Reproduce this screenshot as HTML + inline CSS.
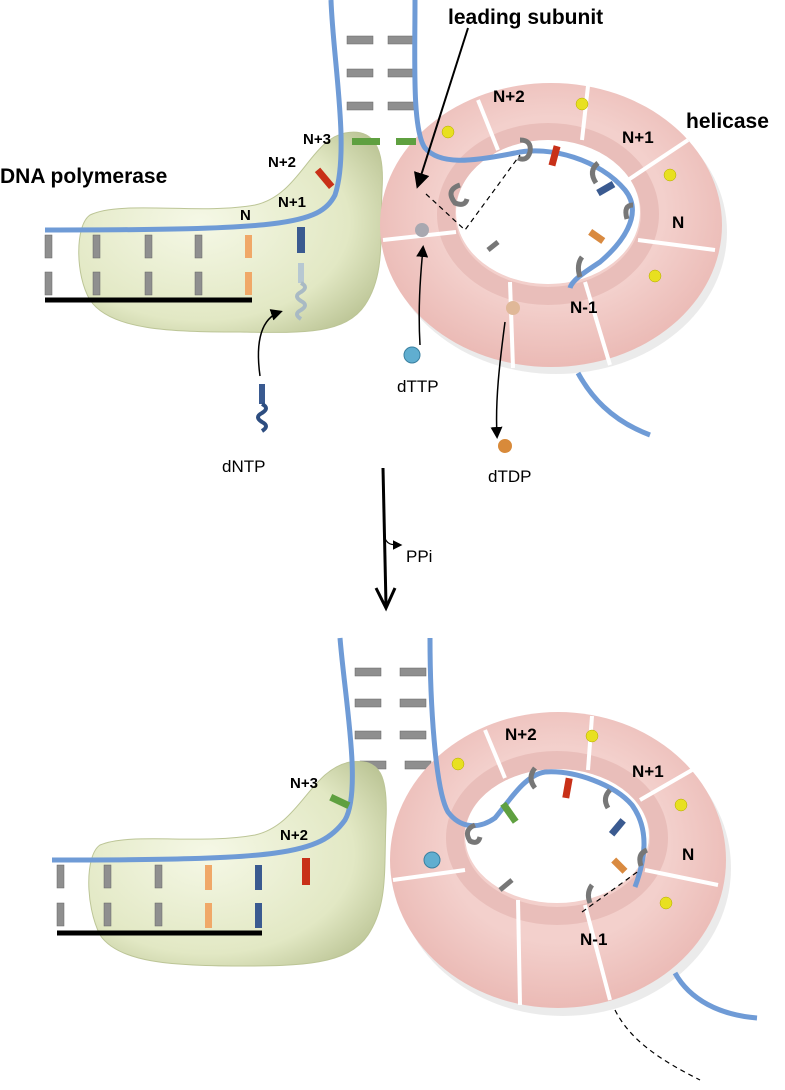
<!DOCTYPE html>
<html><head><meta charset="utf-8"><style>
html,body{margin:0;padding:0;background:#fff;}
svg{display:block;font-family:"Liberation Sans",sans-serif;}
</style></head><body>
<svg width="785" height="1090" viewBox="0 0 785 1090" xmlns="http://www.w3.org/2000/svg">
<defs>
<radialGradient id="g1" cx="0.4" cy="0.45" r="0.7">
<stop offset="0" stop-color="#f5f8e6"/><stop offset="0.7" stop-color="#e2e8c4"/><stop offset="1" stop-color="#bcc596"/>
</radialGradient>
<radialGradient id="p1" cx="0.5" cy="0.45" r="0.6">
<stop offset="0.55" stop-color="#f3d0cc"/><stop offset="1" stop-color="#e9b5b0"/>
</radialGradient>
<marker id="ah" markerWidth="8" markerHeight="8" refX="6" refY="4" orient="auto"><path d="M0,0 L8,4 L0,8 z" fill="#000"/></marker>
<g id="rung"><rect x="0" y="0" width="26" height="8" fill="#8f8f8f" stroke="#666" stroke-width="0.5"/></g>
<g id="vr"><rect x="0" y="0" width="7" height="23" fill="#8f8f8f" stroke="#666" stroke-width="0.5"/></g>
</defs>

<!-- ================= TOP PANEL ================= -->
<use href="#rung" x="347" y="36"/><use href="#rung" x="388" y="36"/>
<use href="#rung" x="347" y="69"/><use href="#rung" x="388" y="69"/>
<use href="#rung" x="347" y="102"/><use href="#rung" x="388" y="102"/>
<!-- polymerase blob -->
<path d="M90,215 C120,200 200,215 255,205 C300,195 310,140 345,133 C372,128 385,145 382,190 C380,240 385,275 365,305 C345,335 300,333 240,332 C170,332 110,330 90,300 C75,275 75,225 90,215 Z" fill="url(#g1)" stroke="#bcc596" stroke-width="1"/>
<use href="#vr" x="45" y="235"/><use href="#vr" x="93" y="235"/><use href="#vr" x="145" y="235"/><use href="#vr" x="195" y="235"/>
<rect x="245" y="235" width="7" height="23" fill="#f0a868"/>
<use href="#vr" x="45" y="272"/><use href="#vr" x="93" y="272"/><use href="#vr" x="145" y="272"/><use href="#vr" x="195" y="272"/>
<rect x="245" y="272" width="7" height="23" fill="#f0a868"/>
<rect x="297" y="227" width="8" height="26" fill="#3a5a90"/>
<rect x="298" y="263" width="6" height="20" fill="#b7c8d2"/>
<path d="M301,283 q8,4 0,9 q-8,4 0,9 q8,4 0,9 q-8,4 0,9" stroke="#a9bac4" stroke-width="4" fill="none"/>
<line x1="45" y1="300" x2="252" y2="300" stroke="#000" stroke-width="5"/>
<!-- helicase ring -->
<ellipse cx="556" cy="232" rx="171" ry="142" fill="#d8d8d8" opacity="0.5"/>
<path fill-rule="evenodd" d="M380,225 A171,142 0 1,0 722,225 A171,142 0 1,0 380,225 Z M456,212 A92,72 0 1,0 640,212 A92,72 0 1,0 456,212 Z" fill="url(#p1)"/>
<ellipse cx="548" cy="214" rx="102" ry="82" fill="none" stroke="#e3b3ae" stroke-width="18" opacity="0.6"/>
<ellipse cx="548" cy="212" rx="92" ry="72" fill="#fff"/>
<g stroke="#fff" stroke-width="4">
<line x1="478" y1="100" x2="498" y2="150"/><line x1="588" y1="86" x2="582" y2="140"/>
<line x1="688" y1="140" x2="628" y2="180"/><line x1="715" y1="250" x2="638" y2="240"/>
<line x1="610" y1="365" x2="585" y2="282"/><line x1="513" y1="368" x2="510" y2="282"/>
<line x1="383" y1="240" x2="456" y2="232"/>
</g>
<!-- DNA strands -->
<path d="M331,0 C333,60 350,150 335,195 C320,225 280,230 45,230" stroke="#6f9bd6" stroke-width="5" fill="none"/>
<path d="M415,0 C415,60 412,130 425,148 C440,165 470,162 515,153 C550,145 600,160 625,190 C645,215 620,245 600,262 C585,272 572,280 570,288" stroke="#6f9bd6" stroke-width="5" fill="none"/>
<path d="M578,373 C590,395 610,420 650,435" stroke="#6f9bd6" stroke-width="5" fill="none"/>
<!-- colored bases -->
<rect x="352" y="138" width="28" height="7" fill="#5fa040"/><rect x="396" y="138" width="20" height="7" fill="#5fa040"/>
<rect x="321" y="167" width="7" height="22" fill="#c83018" transform="rotate(-40 325 178)"/>
<rect x="551" y="146" width="7" height="20" fill="#c83018" transform="rotate(15 555 156)"/>
<rect x="602" y="180" width="7" height="18" fill="#3a5a90" transform="rotate(60 606 189)"/>
<rect x="593" y="228" width="7" height="16" fill="#d98a40" transform="rotate(-55 597 236)"/>
<g stroke="#777" stroke-width="5" fill="none">
<path d="M520,140 q12,0 10,12 q-3,10 -12,6"/>
<path d="M598,163 q-10,8 -2,20"/>
<path d="M633,205 q-10,0 -6,14"/>
<path d="M582,257 q-6,8 -2,20"/>
<path d="M460,185 q-15,5 -5,18 q10,4 12,-4"/>
<path d="M488,250 l10,-8"/>
</g>
<g fill="#e8e020" stroke="#b0a800" stroke-width="0.5">
<circle cx="448" cy="132" r="6"/><circle cx="582" cy="104" r="6"/><circle cx="670" cy="175" r="6"/><circle cx="655" cy="276" r="6"/>
</g>
<circle cx="422" cy="230" r="7" fill="#a8a8b0"/>
<circle cx="513" cy="308" r="7" fill="#e0b898"/>
<!-- arrows -->
<line x1="468" y1="28" x2="418" y2="185" stroke="#000" stroke-width="2" marker-end="url(#ah)"/>
<path d="M426,194 L465,230 L520,155" stroke="#000" stroke-width="1.2" stroke-dasharray="5,4" fill="none"/>
<path d="M260,376 C255,340 262,318 280,312" stroke="#000" stroke-width="1.5" fill="none" marker-end="url(#ah)"/>
<rect x="259" y="384" width="6" height="20" fill="#3a5a90"/>
<path d="M262,404 q8,4 0,9 q-8,4 0,9 q8,4 0,9" stroke="#2d4d80" stroke-width="4" fill="none"/>
<path d="M420,345 C418,310 420,280 423,248" stroke="#000" stroke-width="1.5" fill="none" marker-end="url(#ah)"/>
<circle cx="412" cy="355" r="8" fill="#60aed0" stroke="#3a80a0"/>
<path d="M505,322 C500,360 495,400 497,436" stroke="#000" stroke-width="1.5" fill="none" marker-end="url(#ah)"/>
<circle cx="505" cy="446" r="7" fill="#d88a3a"/>
<g font-weight="bold" font-size="21">
<text x="448" y="24">leading subunit</text>
<text x="0" y="183">DNA polymerase</text>
<text x="686" y="128">helicase</text>
</g>
<g font-weight="bold" font-size="17">
<text x="303" y="144" font-size="15">N+3</text>
<text x="268" y="167" font-size="15">N+2</text>
<text x="278" y="207" font-size="15">N+1</text>
<text x="240" y="220" font-size="15">N</text>
<text x="493" y="102">N+2</text>
<text x="622" y="143">N+1</text>
<text x="672" y="228">N</text>
<text x="570" y="313">N-1</text>
</g>
<text x="222" y="472" font-size="17">dNTP</text>
<text x="397" y="392" font-size="17">dTTP</text>
<text x="488" y="482" font-size="17">dTDP</text>

<!-- central arrow -->
<line x1="383" y1="468" x2="386" y2="605" stroke="#000" stroke-width="3"/>
<path d="M376,588 L386,608 L395,588" stroke="#000" stroke-width="3" fill="none"/>
<path d="M384,535 C386,545 392,545 400,545" stroke="#000" stroke-width="1.2" fill="none" marker-end="url(#ah)"/>
<text x="406" y="562" font-size="17">PPi</text>

<!-- ================= BOTTOM PANEL ================= -->
<use href="#rung" x="355" y="668"/><use href="#rung" x="400" y="668"/>
<use href="#rung" x="355" y="699"/><use href="#rung" x="400" y="699"/>
<use href="#rung" x="355" y="731"/><use href="#rung" x="400" y="731"/>
<use href="#rung" x="360" y="761"/><use href="#rung" x="405" y="761"/>
<path d="M100,845 C130,832 200,845 255,835 C300,825 310,770 350,762 C380,758 388,775 386,820 C384,870 388,905 368,935 C348,965 300,966 240,966 C170,966 118,962 100,935 C85,905 85,855 100,845 Z" fill="url(#g1)" stroke="#bcc596" stroke-width="1"/>
<use href="#vr" x="57" y="865"/><use href="#vr" x="104" y="865"/><use href="#vr" x="155" y="865"/>
<rect x="205" y="865" width="7" height="25" fill="#f0a868"/><rect x="255" y="865" width="7" height="25" fill="#3a5a90"/>
<use href="#vr" x="57" y="903"/><use href="#vr" x="104" y="903"/><use href="#vr" x="155" y="903"/>
<rect x="205" y="903" width="7" height="25" fill="#f0a868"/><rect x="255" y="903" width="7" height="25" fill="#3a5a90"/>
<rect x="302" y="858" width="8" height="27" fill="#c83018"/>
<line x1="57" y1="933" x2="262" y2="933" stroke="#000" stroke-width="5"/>
<ellipse cx="563" cy="868" rx="168" ry="148" fill="#d8d8d8" opacity="0.5"/>
<path fill-rule="evenodd" d="M390,860 A168,148 0 1,0 726,860 A168,148 0 1,0 390,860 Z" fill="url(#p1)"/>
<ellipse cx="557" cy="838" rx="102" ry="78" fill="none" stroke="#e3b3ae" stroke-width="18" opacity="0.6"/>
<ellipse cx="557" cy="836" rx="92" ry="67" fill="#fff"/>
<g stroke="#fff" stroke-width="4">
<line x1="485" y1="730" x2="505" y2="778"/><line x1="592" y1="716" x2="588" y2="770"/>
<line x1="692" y1="770" x2="640" y2="800"/><line x1="718" y1="885" x2="645" y2="870"/>
<line x1="610" y1="1000" x2="585" y2="905"/><line x1="520" y1="1005" x2="518" y2="900"/>
<line x1="393" y1="880" x2="465" y2="870"/>
</g>
<path d="M340,638 C345,700 362,790 345,820 C320,855 280,860 52,860" stroke="#6f9bd6" stroke-width="5" fill="none"/>
<path d="M430,638 C430,700 435,790 448,812 C460,828 478,830 495,818 C510,800 525,775 545,772 C575,770 615,785 632,805 C650,830 645,860 635,887" stroke="#6f9bd6" stroke-width="5" fill="none"/>
<path d="M675,973 C690,1000 720,1015 757,1018" stroke="#6f9bd6" stroke-width="5" fill="none"/>
<rect x="330" y="798" width="20" height="7" fill="#5fa040" transform="rotate(25 340 801)"/>
<rect x="506" y="802" width="7" height="22" fill="#5fa040" transform="rotate(-35 509 813)"/>
<rect x="564" y="778" width="7" height="20" fill="#c83018" transform="rotate(10 567 788)"/>
<rect x="614" y="818" width="7" height="18" fill="#3a5a90" transform="rotate(40 617 827)"/>
<rect x="616" y="858" width="7" height="16" fill="#d98a40" transform="rotate(-45 619 866)"/>
<g stroke="#777" stroke-width="5" fill="none">
<path d="M475,825 q-12,5 -5,16 q8,4 10,-4"/>
<path d="M535,768 q-8,10 0,20"/>
<path d="M610,790 q-8,8 -2,18"/>
<path d="M647,850 q-10,4 -6,16"/>
<path d="M592,885 q-6,8 -2,18"/>
<path d="M500,890 l12,-10"/>
</g>
<g fill="#e8e020" stroke="#b0a800" stroke-width="0.5">
<circle cx="458" cy="764" r="6"/><circle cx="592" cy="736" r="6"/><circle cx="681" cy="805" r="6"/><circle cx="666" cy="903" r="6"/>
</g>
<circle cx="432" cy="860" r="8" fill="#60aed0" stroke="#3a80a0"/>
<path d="M582,912 L640,870" stroke="#000" stroke-width="1.2" stroke-dasharray="5,4" fill="none"/>
<path d="M615,1010 C630,1040 660,1060 700,1080" stroke="#000" stroke-width="1.2" stroke-dasharray="5,4" fill="none"/>
<g font-weight="bold" font-size="17">
<text x="290" y="788" font-size="15">N+3</text>
<text x="280" y="840" font-size="15">N+2</text>
<text x="505" y="740">N+2</text>
<text x="632" y="777">N+1</text>
<text x="682" y="860">N</text>
<text x="580" y="945">N-1</text>
</g>
</svg>
</body></html>
